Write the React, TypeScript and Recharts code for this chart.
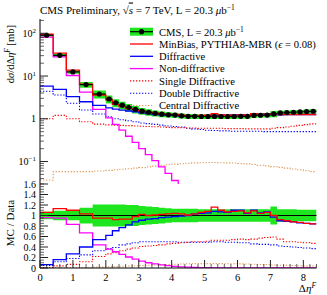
import React from 'react';
import { ComposedChart, Line, Area, Scatter, ErrorBar, XAxis, YAxis, ReferenceLine } from 'recharts';

// bin edges in Δη^F (first five bins are 0.4 wide, then 0.2)
const binEdges = [0, 0.4, 0.8, 1.2, 1.6, 2.0, 2.2, 2.4, 2.6, 2.8, 3.0, 3.2, 3.4, 3.6, 3.8, 4.0, 4.2, 4.4, 4.6, 4.8, 5.0, 5.2, 5.4, 5.6, 5.8, 6.0, 6.2, 6.4, 6.6, 6.8, 7.0, 7.2, 7.4, 7.6, 7.8, 8.0, 8.2, 8.4];

// CMS data, dσ/dΔη^F [mb] and relative uncertainty
const cmsValues = [90, 30.5, 12.5, 6.3, 3.8, 2.9, 2.37, 2.08, 1.85, 1.66, 1.51, 1.42, 1.34, 1.28, 1.24, 1.22, 1.17, 1.14, 1.14, 1.13, 1.13, 1.13, 1.13, 1.13, 1.13, 1.14, 1.14, 1.2, 1.21, 1.22, 1.3, 1.37, 1.4, 1.42, 1.45, 1.48, 1.5];
const cmsErr = [0.07, 0.09, 0.09, 0.15, 0.21, 0.21, 0.21, 0.21, 0.2, 0.2, 0.18, 0.17, 0.16, 0.15, 0.14, 0.13, 0.13, 0.13, 0.13, 0.12, 0.12, 0.12, 0.12, 0.12, 0.12, 0.12, 0.12, 0.12, 0.12, 0.12, 0.17, 0.12, 0.12, 0.12, 0.11, 0.11, 0.11];

// PYTHIA8-MBR predictions [mb]
const mbrTotal = [95, 34.5, 13.8, 6.5, 3.6, 2.76, 2.18, 1.93, 1.72, 1.63, 1.54, 1.42, 1.35, 1.31, 1.28, 1.27, 1.21, 1.15, 1.17, 1.2, 1.22, 1.31, 1.24, 1.21, 1.22, 1.24, 1.2, 1.31, 1.26, 1.29, 1.3, 1.26, 1.26, 1.25, 1.26, 1.26, 1.26];
const diffractive = [5.8, 4.9, 3.3, 2.5, 2.05, 1.8, 1.68, 1.6, 1.52, 1.46, 1.38, 1.32, 1.26, 1.23, 1.21, 1.2, 1.16, 1.14, 1.17, 1.18, 1.19, 1.22, 1.21, 1.2, 1.24, 1.25, 1.19, 1.32, 1.27, 1.3, 1.26, 1.23, 1.25, 1.25, 1.25, 1.26, 1.26];
const nonDiffractive = [81, 28, 10.3, 4.2, 1.66, 1.05, 0.74, 0.54, 0.39, 0.28, 0.2, 0.145, 0.105, 0.075, 0.053, 0.036, 0.025, 0.017, 0.012, 0.008, 0.005, 0.0035, 0.0025, 0.0018, 0.0012, 0.0009, 0.0007, 0.0005, 0.0004, 0.0003, 0.0002, 0.0002, 0.0001, 0.0001, 0.0001, 0.0001, 0.0001];
const singleDiff = [1.0, 1.2, 1.0, 0.85, 0.75, 0.72, 0.71, 0.7, 0.69, 0.68, 0.67, 0.66, 0.65, 0.64, 0.63, 0.62, 0.62, 0.61, 0.61, 0.6, 0.6, 0.6, 0.6, 0.59, 0.59, 0.59, 0.58, 0.58, 0.58, 0.58, 0.6, 0.62, 0.64, 0.67, 0.7, 0.73, 0.76];
const doubleDiff = [4.4, 3.6, 2.3, 1.6, 1.29, 1.12, 1.0, 0.95, 0.9, 0.85, 0.8, 0.77, 0.74, 0.71, 0.68, 0.66, 0.64, 0.6, 0.58, 0.56, 0.54, 0.53, 0.52, 0.52, 0.51, 0.51, 0.51, 0.51, 0.51, 0.5, 0.5, 0.5, 0.5, 0.5, 0.5, 0.5, 0.5];
const centralDiff = [0.037, 0.058, 0.058, 0.058, 0.06, 0.062, 0.064, 0.066, 0.068, 0.07, 0.072, 0.075, 0.078, 0.081, 0.084, 0.087, 0.089, 0.091, 0.093, 0.094, 0.095, 0.095, 0.094, 0.093, 0.092, 0.09, 0.088, 0.085, 0.082, 0.079, 0.076, 0.073, 0.07, 0.067, 0.064, 0.061, 0.058];

// MC / Data
const ratioTotal = [1.06, 1.13, 1.1, 1.03, 0.95, 0.95, 0.92, 0.93, 0.93, 0.98, 1.02, 1.0, 1.01, 1.02, 1.03, 1.04, 1.03, 1.01, 1.03, 1.06, 1.08, 1.16, 1.1, 1.07, 1.08, 1.09, 1.05, 1.09, 1.04, 1.06, 1.0, 0.92, 0.9, 0.88, 0.87, 0.85, 0.84];
const ratioDiff = [0.065, 0.16, 0.27, 0.4, 0.54, 0.62, 0.71, 0.77, 0.82, 0.88, 0.91, 0.93, 0.94, 0.96, 0.97, 0.98, 0.99, 1.0, 1.03, 1.04, 1.05, 1.08, 1.07, 1.06, 1.1, 1.1, 1.04, 1.1, 1.05, 1.07, 0.97, 0.9, 0.89, 0.88, 0.86, 0.85, 0.84];
const ratioND = [0.96, 0.95, 0.83, 0.67, 0.44, 0.36, 0.31, 0.26, 0.21, 0.17, 0.13, 0.1, 0.08, 0.06, 0.045, 0.03, 0.022, 0.015, 0.01, 0.007, 0.005, 0.003, 0.002, 0.001, 0.001, 0, 0, 0, 0, 0, 0, 0, 0, 0, 0, 0, 0];
const ratioSD = [0.01, 0.04, 0.07, 0.12, 0.22, 0.27, 0.29, 0.33, 0.36, 0.38, 0.41, 0.42, 0.43, 0.44, 0.46, 0.47, 0.48, 0.49, 0.5, 0.5, 0.51, 0.53, 0.53, 0.53, 0.54, 0.55, 0.54, 0.55, 0.57, 0.58, 0.59, 0.55, 0.5, 0.5, 0.49, 0.48, 0.47];
const ratioDD = [0.05, 0.12, 0.18, 0.25, 0.33, 0.37, 0.39, 0.44, 0.46, 0.48, 0.5, 0.5, 0.5, 0.5, 0.5, 0.5, 0.49, 0.49, 0.49, 0.49, 0.49, 0.5, 0.5, 0.49, 0.49, 0.48, 0.48, 0.46, 0.45, 0.45, 0.44, 0.42, 0.41, 0.4, 0.39, 0.38, 0.37];
const ratioCD = [0.0, 0.002, 0.005, 0.01, 0.016, 0.021, 0.027, 0.032, 0.037, 0.042, 0.048, 0.053, 0.058, 0.063, 0.068, 0.071, 0.076, 0.08, 0.082, 0.083, 0.084, 0.084, 0.083, 0.082, 0.081, 0.079, 0.077, 0.071, 0.068, 0.065, 0.058, 0.053, 0.05, 0.047, 0.044, 0.041, 0.039];

const xLabels = [0, 1, 2, 3, 4, 5, 6, 7, 8];
const logMajor = [0.1, 1, 10, 100];
const ratioLabels = [0, 0.2, 0.4, 0.6, 0.8, 1, 1.2, 1.4, 1.6];

const SERIF = "'Liberation Serif', 'Times New Roman', 'DejaVu Serif', serif";
const GREEN = '#1ee61e';
const CD_COLOR = '#e09a5a';

// layout
const PL = 40;
const PR = 316.5;
const TOP_H = 185;
const TOP_T = 19;
const TOP_B = 184;
const RAT_Y0 = 180;
const RAT_H = 115;
const RAT_T = 4;
const RAT_B = 88;

const xTicks: number[] = [];
for (let i = 0; i <= 42; i++) xTicks.push(Math.round(i * 2) / 10);
const logTicks: number[] = [];
[0.01, 0.1, 1, 10, 100].forEach(d => {
  for (let m = 1; m <= 9; m++) {
    const v = Number((m * d).toPrecision(3));
    if (v >= 0.03 && v <= 210) logTicks.push(v);
  }
});
const ratioTicks: number[] = [];
for (let i = 0; i <= 32; i++) ratioTicks.push(Math.round(i * 5) / 100);

const near = (a: number, b: number) => Math.abs(a - b) < 1e-6;

function xTick(edgeY: number, dir: number, labels: boolean) {
  return (p: any) => {
    const v = p.payload.value;
    const major = xLabels.some(l => near(l, v));
    const len = major ? 8 : 4;
    return (
      <g>
        <line x1={p.x} x2={p.x} y1={edgeY} y2={edgeY + dir * len} stroke="#222" strokeWidth={major ? 1 : 0.7} />
        {labels && major && (
          <text x={p.x} y={edgeY + 13} textAnchor="middle" fontSize={10.5} fill="#000">{v}</text>
        )}
      </g>
    );
  };
}

function logLabel(v: number, x: number, y: number) {
  if (near(v, 1)) return <text x={x} y={y + 3.5} textAnchor="end" fontSize={10}>1</text>;
  const exp = near(v, 100) ? '2' : near(v, 10) ? '1' : '\u22121';
  return (
    <text x={x} y={y + 3.5} textAnchor="end" fontSize={10}>
      10<tspan dy={-4} fontSize={7}>{exp}</tspan>
    </text>
  );
}

function yTick(edgeX: number, dir: number, kind: 'log' | 'ratio', labels: boolean) {
  return (p: any) => {
    const v = p.payload.value;
    const major = kind === 'log' ? logMajor.some(m => near(m, v)) : ratioLabels.some(m => near(m, v));
    const len = major ? 8 : 4;
    return (
      <g>
        <line x1={edgeX} x2={edgeX + dir * len} y1={p.y} y2={p.y} stroke="#222" strokeWidth={major ? 1 : 0.7} />
        {labels && major && kind === 'log' && logLabel(v, edgeX - 4, p.y)}
        {labels && major && kind === 'ratio' && (
          <text x={edgeX - 4} y={p.y + 3.5} textAnchor="end" fontSize={10}>{String(v)}</text>
        )}
      </g>
    );
  };
}

const legendRows = [
  { label: <>CMS, L = 20.3 <tspan fontStyle="italic">μ</tspan>b<tspan dy={-4} fontSize={7.5}>−1</tspan></>, color: '#000', kind: 'data' },
  { label: <>MinBias, PYTHIA8-MBR (<tspan fontStyle="italic">ϵ</tspan> = 0.08)</>, color: '#ff0000', kind: 'solid' },
  { label: <>Diffractive</>, color: '#0000ff', kind: 'solid' },
  { label: <>Non-diffractive</>, color: '#ff00ff', kind: 'solid' },
  { label: <>Single Diffractive</>, color: '#ff0000', kind: 'dot' },
  { label: <>Double Diffractive</>, color: '#0000ff', kind: 'dot' },
  { label: <>Central Diffractive</>, color: CD_COLOR, kind: 'dot' },
];

export default function App() {
  const n = cmsValues.length;
  const topRows = binEdges.map((x, i) => {
    const k = Math.min(i, n - 1);
    return {
      x,
      band: [cmsValues[k] * (1 - cmsErr[k]), cmsValues[k] * (1 + cmsErr[k])],
      total: mbrTotal[k],
      diff: diffractive[k],
      nd: nonDiffractive[k],
      sd: singleDiff[k],
      dd: doubleDiff[k],
      cd: centralDiff[k],
    };
  });
  const ratioRows = binEdges.map((x, i) => {
    const k = Math.min(i, n - 1);
    return {
      x,
      band: [1 - cmsErr[k], 1 + cmsErr[k]],
      total: ratioTotal[k],
      diff: ratioDiff[k],
      nd: ratioND[k],
      sd: ratioSD[k],
      dd: ratioDD[k],
      cd: ratioCD[k],
    };
  });
  const points = cmsValues.map((v, i) => ({
    x: (binEdges[i] + binEdges[i + 1]) / 2,
    y: v,
    ex: (binEdges[i + 1] - binEdges[i]) / 2,
  }));

  const mcLines = (
    [
      { key: 'cd', color: CD_COLOR, dash: '1.3 1.7' },
      { key: 'dd', color: '#0000ff', dash: '1.3 1.7' },
      { key: 'sd', color: '#ff0000', dash: '1.3 1.7' },
      { key: 'nd', color: '#ff00ff', dash: undefined },
      { key: 'diff', color: '#0000ff', dash: undefined },
      { key: 'total', color: '#ff0000', dash: undefined },
    ] as { key: string; color: string; dash?: string }[]
  ).map(s => (
    <Line
      key={s.key}
      dataKey={s.key}
      type="stepAfter"
      stroke={s.color}
      strokeWidth={s.dash ? 1.1 : 1.3}
      strokeDasharray={s.dash}
      dot={false}
      activeDot={false}
      isAnimationActive={false}
    />
  ));

  return (
    <div style={{ position: 'absolute', left: 0, top: 0, width: 327, height: 295, background: '#fff', fontFamily: SERIF }}>
      <style>{`svg text, svg tspan { font-family: ${SERIF}; }`}</style>
      <div style={{ position: 'absolute', left: 0, top: 0 }}>
        <ComposedChart width={327} height={TOP_H} data={topRows} margin={{ top: TOP_T, right: 327 - PR, bottom: TOP_H - TOP_B, left: 0 }}>
          <XAxis dataKey="x" type="number" domain={[0, 8.4]} allowDataOverflow ticks={xTicks} interval={0} height={0}
            tickLine={false} axisLine={{ stroke: '#000' }} tick={xTick(TOP_B, -1, false)} />
          <XAxis xAxisId="t" orientation="top" type="number" domain={[0, 8.4]} allowDataOverflow ticks={xTicks} interval={0} height={0}
            tickLine={false} axisLine={{ stroke: '#000' }} tick={xTick(TOP_T, 1, false)} />
          <YAxis type="number" scale="log" domain={[0.0298, 216]} allowDataOverflow ticks={logTicks} interval={0} width={PL}
            tickLine={false} axisLine={{ stroke: '#000' }} tick={yTick(PL, 1, 'log', true)} />
          <YAxis yAxisId="r" orientation="right" type="number" scale="log" domain={[0.0298, 216]} allowDataOverflow ticks={logTicks} interval={0} width={0}
            tickLine={false} axisLine={{ stroke: '#000' }} tick={yTick(PR, -1, 'log', false)} />
          <Area dataKey="band" type="stepAfter" fill={GREEN} fillOpacity={1} stroke="none" isAnimationActive={false} activeDot={false} />
          {mcLines}
          <Scatter data={points} dataKey="y" isAnimationActive={false}
            shape={(p: any) => <circle cx={p.cx} cy={p.cy} r={2.6} fill="#000" />}>
            <ErrorBar dataKey="ex" direction="x" width={0} stroke="#000" strokeWidth={1.2} />
          </Scatter>
        </ComposedChart>
      </div>

      <div style={{ position: 'absolute', left: 0, top: RAT_Y0 }}>
        <ComposedChart width={327} height={RAT_H} data={ratioRows} margin={{ top: RAT_T, right: 327 - PR, bottom: 0, left: 0 }}>
          <XAxis dataKey="x" type="number" domain={[0, 8.4]} allowDataOverflow ticks={xTicks} interval={0} height={RAT_H - RAT_B}
            tickLine={false} axisLine={{ stroke: '#000' }} tick={xTick(RAT_B, -1, true)} />
          <XAxis xAxisId="t" orientation="top" type="number" domain={[0, 8.4]} allowDataOverflow ticks={xTicks} interval={0} height={0}
            tickLine={false} axisLine={{ stroke: '#000' }} tick={xTick(RAT_T, 1, false)} />
          <YAxis type="number" domain={[0, 1.6]} allowDataOverflow ticks={ratioTicks} interval={0} width={PL}
            tickLine={false} axisLine={{ stroke: '#000' }} tick={yTick(PL, 1, 'ratio', true)} />
          <YAxis yAxisId="r" orientation="right" type="number" domain={[0, 1.6]} allowDataOverflow ticks={ratioTicks} interval={0} width={0}
            tickLine={false} axisLine={{ stroke: '#000' }} tick={yTick(PR, -1, 'ratio', false)} />
          <Area dataKey="band" type="stepAfter" fill={GREEN} fillOpacity={1} stroke="none" isAnimationActive={false} activeDot={false} />
          <ReferenceLine y={1} stroke="#000" strokeWidth={1} />
          {mcLines}
        </ComposedChart>
      </div>

      <svg width={327} height={295} style={{ position: 'absolute', left: 0, top: 0, pointerEvents: 'none' }}>
        <text x={40} y={13.5} fontSize={11} fill="#000">
          CMS Preliminary, √<tspan textDecoration="overline" fontStyle="italic">s</tspan> = 7 TeV, L = 20.3 <tspan fontStyle="italic">μ</tspan>b<tspan dy={-4} fontSize={7.5}>−1</tspan>
        </text>
        <text transform="translate(14,25) rotate(-90)" textAnchor="end" fontSize={10.5} fill="#000">
          d<tspan fontStyle="italic">σ</tspan>/dΔ<tspan fontStyle="italic">η</tspan><tspan dy={-4} fontSize={7.5} fontStyle="italic">F</tspan><tspan dy={4}> [mb]</tspan>
        </text>
        <text transform="translate(14,223) rotate(-90)" textAnchor="middle" fontSize={11} fill="#000">MC / Data</text>
        <text x={316} y={292} textAnchor="end" fontSize={11} fill="#000">
          Δ<tspan fontStyle="italic">η</tspan><tspan dy={-4} fontSize={7.5} fontStyle="italic">F</tspan>
        </text>
        {legendRows.map((r, i) => {
          const cy = 31.7 + i * 12.3;
          return (
            <g key={i}>
              {r.kind === 'data' && (
                <>
                  <rect x={130} y={cy - 4} width={23} height={8} fill={GREEN} />
                  <line x1={130} x2={153} y1={cy} y2={cy} stroke="#000" strokeWidth={1.2} />
                  <circle cx={141.5} cy={cy} r={2.6} fill="#000" />
                </>
              )}
              {r.kind === 'solid' && <line x1={130} x2={153} y1={cy} y2={cy} stroke={r.color} strokeWidth={1.3} />}
              {r.kind === 'dot' && <line x1={130} x2={153} y1={cy} y2={cy} stroke={r.color} strokeWidth={1.1} strokeDasharray="1.3 1.7" />}
              <text x={159} y={cy + 3.8} fontSize={10.6} fill="#000">{r.label}</text>
            </g>
          );
        })}
      </svg>
    </div>
  );
}
